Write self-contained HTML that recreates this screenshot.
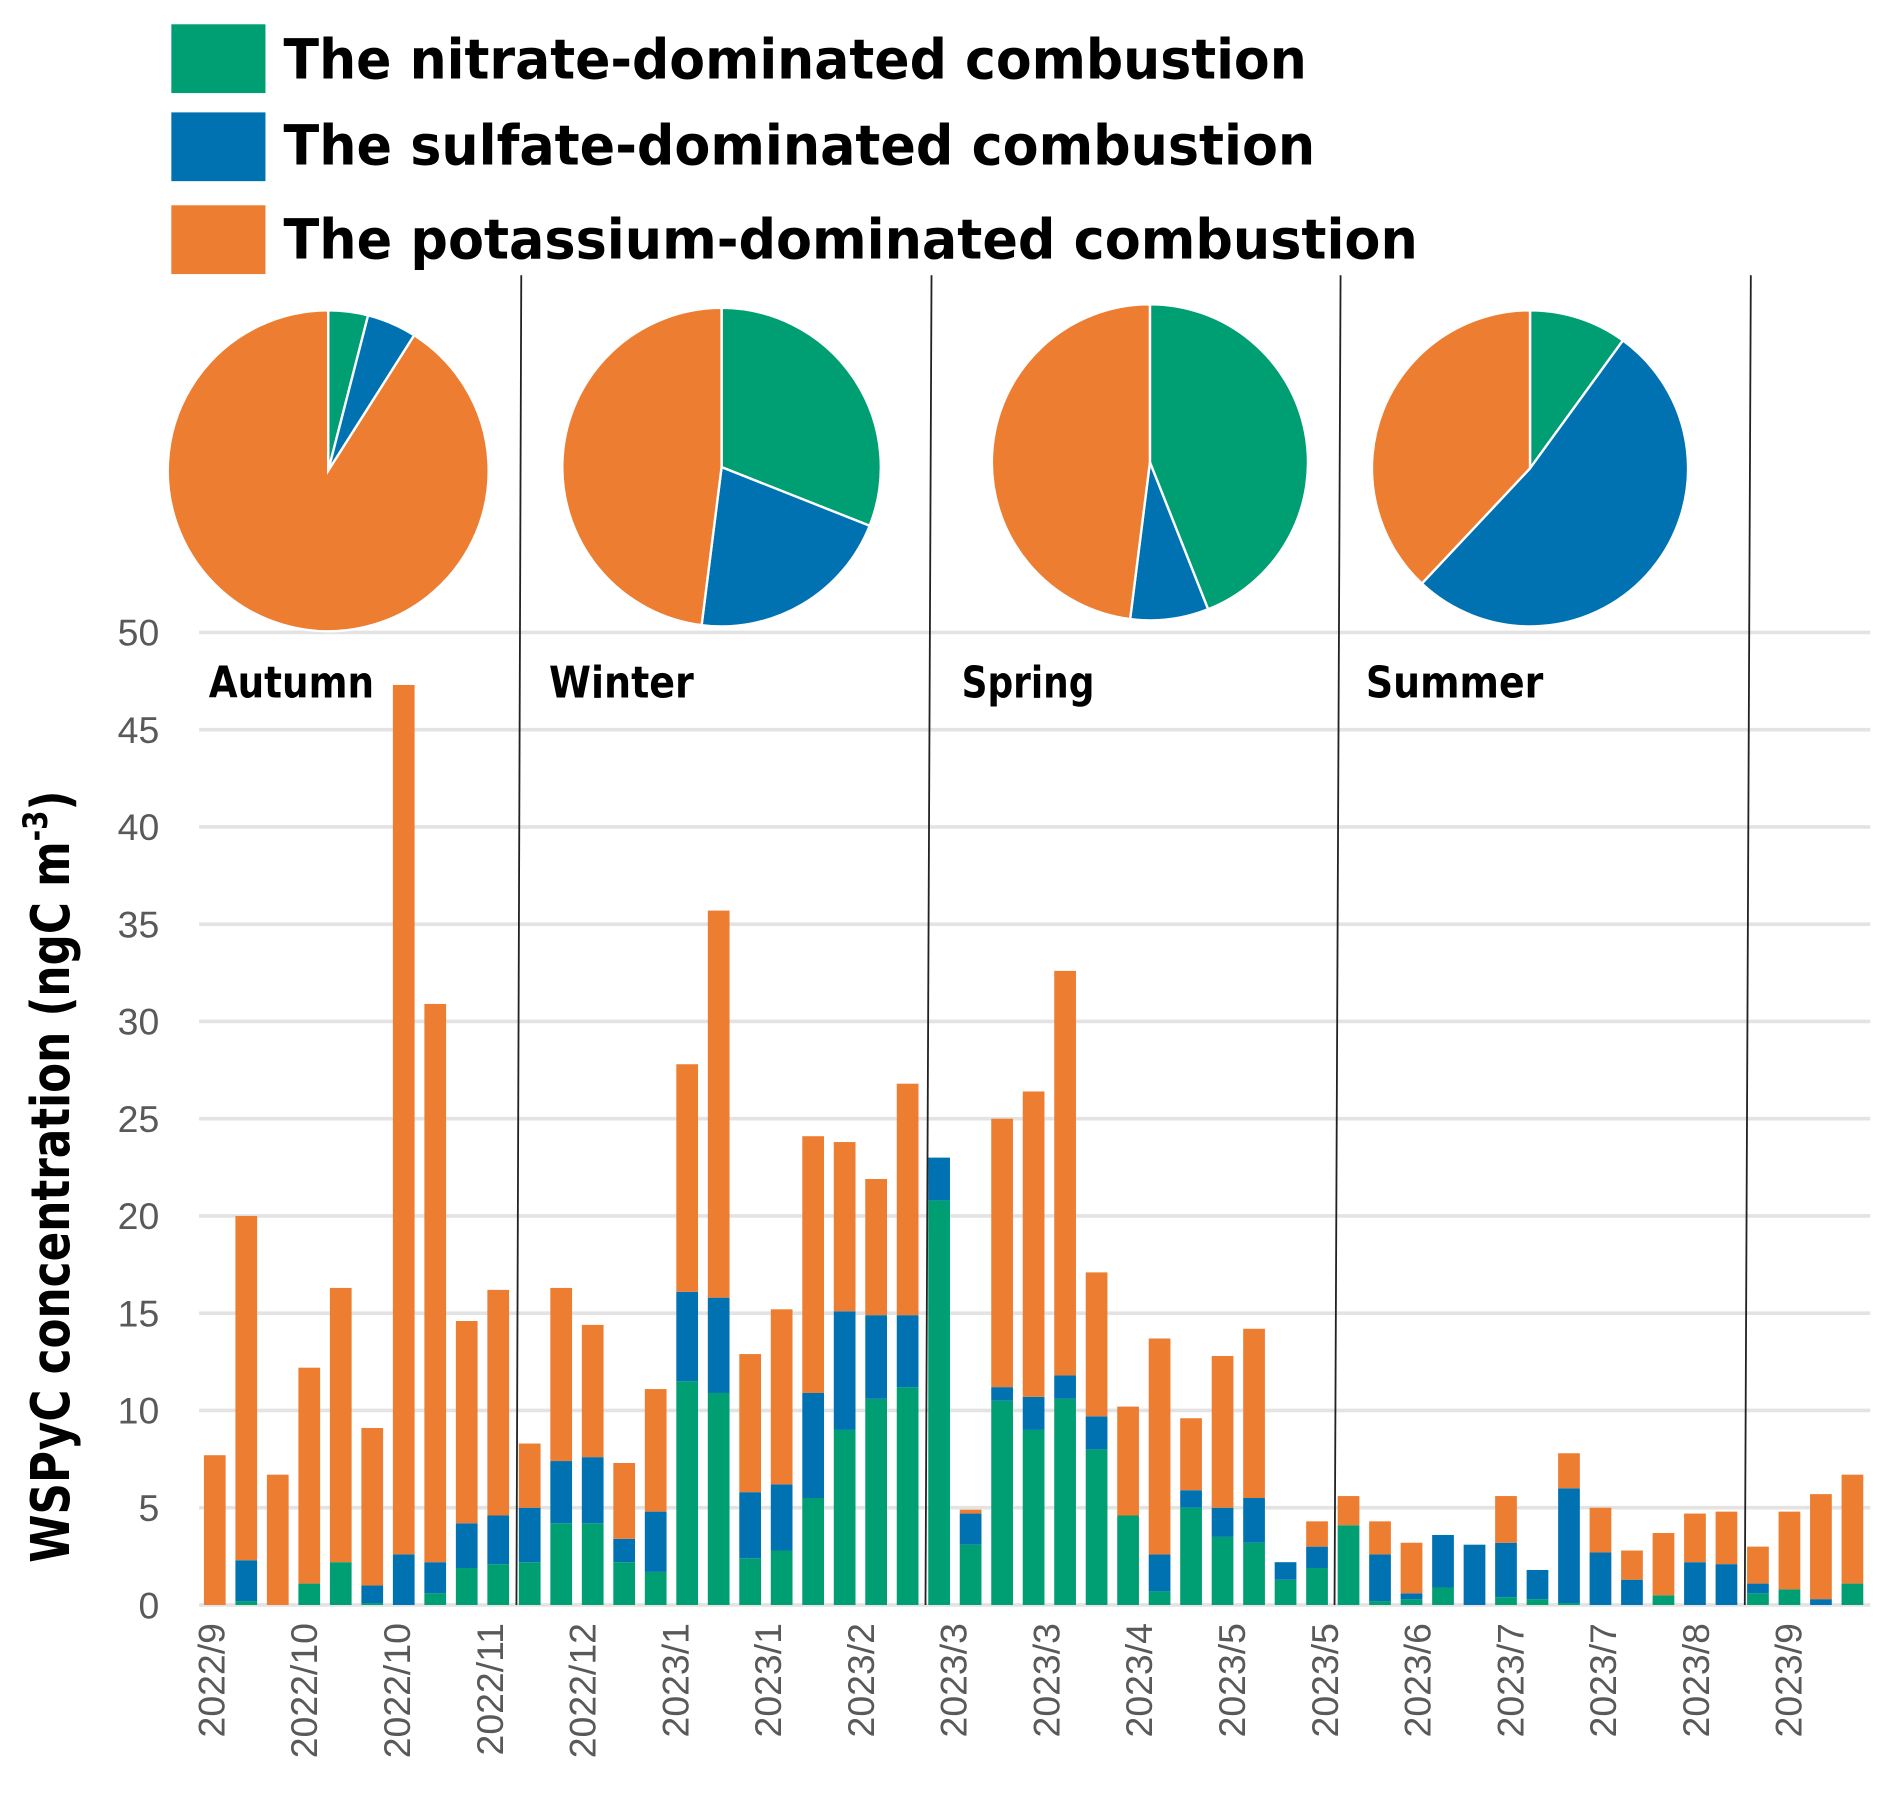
<!DOCTYPE html>
<html><head><meta charset="utf-8"><style>html,body{margin:0;padding:0;background:#fff}svg{display:block}</style></head>
<body>
<svg id="chart" width="1892" height="1797" viewBox="0 0 1568 1489" xmlns="http://www.w3.org/2000/svg" font-family="'Liberation Sans', 'DejaVu Sans', sans-serif">
<g>
 <rect x="142" y="20" width="78" height="57" fill="#009E73"/>
 <rect x="142" y="93" width="78" height="57" fill="#0072B2"/>
 <rect x="142" y="170" width="78" height="57" fill="#ED7D31"/>
 <text x="235" y="65" font-size="46" font-weight="bold" font-family="'DejaVu Sans Condensed','DejaVu Sans',sans-serif" textLength="848" lengthAdjust="spacingAndGlyphs">The nitrate-dominated combustion</text>
 <text x="235" y="136" font-size="46" font-weight="bold" font-family="'DejaVu Sans Condensed','DejaVu Sans',sans-serif" textLength="855" lengthAdjust="spacingAndGlyphs">The sulfate-dominated combustion</text>
 <text x="235" y="214" font-size="46" font-weight="bold" font-family="'DejaVu Sans Condensed','DejaVu Sans',sans-serif" textLength="940" lengthAdjust="spacingAndGlyphs">The potassium-dominated combustion</text>
</g>
<g id="grid"></g>
<g id="bars"></g>
<g id="pies"></g>
<g id="dividers"></g>
<g id="labels"></g>
<text transform="translate(57,975) rotate(-90)" text-anchor="middle" font-size="44" font-weight="bold" font-family="'DejaVu Sans Condensed','DejaVu Sans',sans-serif" textLength="640" lengthAdjust="spacingAndGlyphs">WSPyC concentration (ngC m<tspan font-size="28" dy="-18">-3</tspan><tspan dy="18">)</tspan></text>
</svg>
<script>
const tickLabels = ["2022/9","2022/10","2022/10","2022/11","2022/12","2023/1","2023/1","2023/2","2023/3","2023/3","2023/4","2023/5","2023/5","2023/6","2023/7","2023/7","2023/8","2023/9"];
const nitrate = [0,0.2,0,1.1,2.2,0.1,0,0.6,1.9,2.1, 2.2,4.2,4.2,2.2,1.7,11.5,10.9,2.4,2.8,5.5,9.0,10.6,11.2, 20.8,3.1,10.5,9.0,10.6,8.0,4.6,0.7,5.0,3.5,3.2,1.3,1.9, 4.1,0.2,0.3,0.9,0,0.4,0.3,0.1,0,0,0.5,0,0, 0.6,0.8,0,1.1];
const sulfate = [0,2.1,0,0,0,0.9,2.6,1.6,2.3,2.5, 2.8,3.2,3.4,1.2,3.1,4.6,4.9,3.4,3.4,5.4,6.1,4.3,3.7, 2.2,1.6,0.7,1.7,1.2,1.7,0,1.9,0.9,1.5,2.3,0.9,1.1, 0,2.4,0.3,2.7,3.1,2.8,1.5,5.9,2.7,1.3,0,2.2,2.1, 0.5,0,0.3,0];
const potassium = [7.7,17.7,6.7,11.1,14.1,8.1,44.7,28.7,10.4,11.6, 3.3,8.9,6.8,3.9,6.3,11.7,19.9,7.1,9.0,13.2,8.7,7.0,11.9, 0,0.2,13.8,15.7,20.8,7.4,5.6,11.1,3.7,7.8,8.7,0,1.3, 1.5,1.7,2.6,0,0,2.4,0,1.8,2.3,1.5,3.2,2.5,2.7, 1.9,4.0,5.4,5.6];
const yTicks = [0,5,10,15,20,25,30,35,40,45,50];
const seasons = ["Autumn","Winter","Spring","Summer"];
const pieNitrate = [4,31,44,10];
const pieSulfate = [5,21,8,52];
const piePotassium = [91,48,48,38];

const NS="http://www.w3.org/2000/svg";
function mk(tag,attrs,parent,txt){const e=document.createElementNS(NS,tag);for(const k in attrs)e.setAttribute(k,attrs[k]);if(txt!==undefined)e.textContent=txt;parent.appendChild(e);return e;}
const y0=1330, yTop=524, x0=178, step=26.1, bw=18;
function yScale(v){return y0-(v/50)*(y0-yTop);}
function xScale(i){return x0+i*step;}
const grid=document.getElementById('grid'), bars=document.getElementById('bars'), labels=document.getElementById('labels');
yTicks.forEach(t=>{
 const l=mk('line',{x1:165,x2:1550,y1:yScale(t),y2:yScale(t),stroke:'#e3e3e3','stroke-width':3},grid);
 
 
 const tx=mk('text',{x:132,y:yScale(t)+11,'text-anchor':'end','font-size':31,fill:'#595959'},labels,String(t));
 
 
});
const cols=['#009E73','#0072B2','#ED7D31'];
nitrate.forEach((n,i)=>{
 const vals=[nitrate[i],sulfate[i],potassium[i]];let acc=0;
 vals.forEach((v,k)=>{
  if(v<=0)return;
  const r=mk('rect',{x:xScale(i)-bw/2,y:yScale(acc+v),width:bw,height:yScale(acc)-yScale(acc+v),fill:cols[k]},bars);
  
  
  acc+=v;
 });
});
const tickEvery=(nitrate.length-3)/(tickLabels.length-1)*0.9985*1.0;
tickLabels.forEach((c,k)=>{
 const xi=xScale(k*2.946)-3;
 const t=mk('text',{transform:'translate('+(xi+11)+',1345) rotate(-90)','text-anchor':'end','font-size':31,fill:'#595959'},labels,c);
 
 
});
const div=document.getElementById('dividers');
[[432,428],[772,767],[1111,1106],[1451,1446]].forEach((p,i)=>{
 const l=mk('line',{x1:p[0],y1:228,x2:p[1],y2:1330,stroke:'#222','stroke-width':1.5},div);
 
 
});
const sx=[173,455,797,1132], sw=[137,120,110,147];
seasons.forEach((s,i)=>{
 const t=mk('text',{x:sx[i],y:578,'font-size':36,'font-weight':'bold','font-family':"'DejaVu Sans Condensed','DejaVu Sans',sans-serif",textLength:sw[i],lengthAdjust:'spacingAndGlyphs'},labels,s);
 
 
});
const pies=document.getElementById('pies');
const pc=[[272,390,133],[598,387,132],[953,383,131],[1268,388,131]];
seasons.forEach((s,i)=>{
 const [cx,cy,r]=pc[i];const vals=[pieNitrate[i],pieSulfate[i],piePotassium[i]];
 const tot=vals[0]+vals[1]+vals[2];let a=0;
 vals.forEach((v,k)=>{
  const a1=a+v/tot*2*Math.PI;
  const p0=[cx+r*Math.sin(a),cy-r*Math.cos(a)],p1=[cx+r*Math.sin(a1),cy-r*Math.cos(a1)];
  const large=(a1-a)>Math.PI?1:0;
  const p=mk('path',{d:`M${cx},${cy}L${p0[0]},${p0[1]}A${r},${r} 0 ${large} 1 ${p1[0]},${p1[1]}Z`,fill:cols[k],stroke:'#fff','stroke-width':2},pies);
  
  
  a=a1;
 });
});
</script>
</body></html>
